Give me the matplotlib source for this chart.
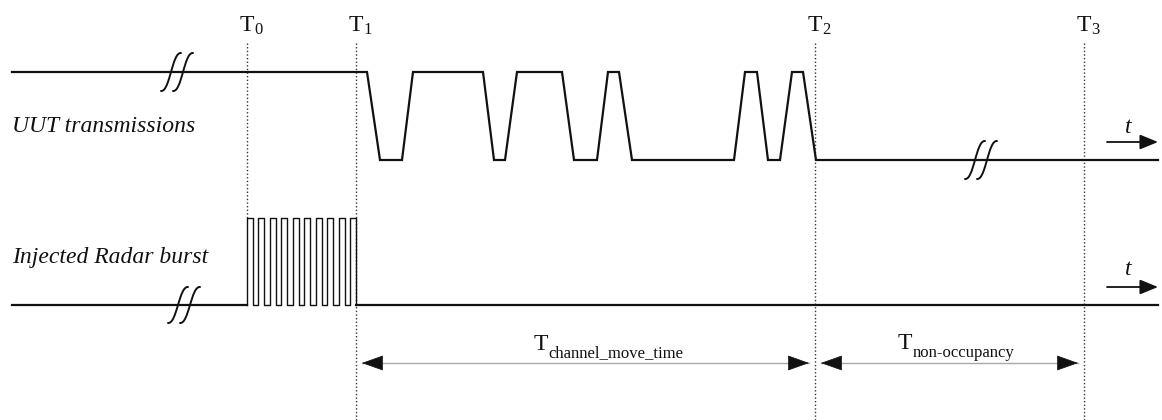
import matplotlib.pyplot as plt
from matplotlib.path import Path
from matplotlib.patches import PathPatch

plt.rcParams["font.family"] = ["Liberation Serif", "DejaVu Serif"]

# time runs in drawing units across the page
t_start, t_end = 12, 1158

# time markers T0..T3
marker_t = [247, 356, 815, 1084]
marker_sub = ["0", "1", "2", "3"]

# UUT transmissions: breakpoints and on/off state
uut_t = [12, 367, 380, 402, 413, 483, 494, 505, 517, 562, 574, 597,
         608, 619, 632, 734, 745, 757, 768, 780, 792, 803, 816, 1158]
uut_on = [1, 1, 0, 0, 1, 1, 0, 0, 1, 1, 0, 0,
          1, 1, 0, 0, 1, 1, 0, 0, 1, 1, 0, 0]

# injected radar burst pulses
pulse_on = [247, 258, 270, 281, 293, 304, 316, 327, 339, 350]
pulse_off = [253, 264, 276, 287, 299, 310, 322, 333, 345, 356]

# time-axis break marks (centre of each "//")
uut_breaks = [177, 981]
radar_breaks = [184]

# dimension arrows between markers
spans = [(1, 2), (2, 3)]
span_main = ["T", "T"]
span_sub = ["channel_move_time", "non-occupancy"]

# lane layout (y of high / low level)
uut_hi, uut_lo = 72, 160
rad_hi, rad_lo = 218, 305
ink = "#111111"


def level_y(on, hi, lo):
    return [hi if v else lo for v in on]


def break_mark(ax, cx, cy, h=19, w=10):
    for dx in (-6, 6):
        x = cx + dx
        verts = [(x - w, cy + h), (x - 1, cy + h + 1), (x + 1, cy - h - 1), (x + w, cy - h)]
        codes = [Path.MOVETO, Path.CURVE4, Path.CURVE4, Path.CURVE4]
        ax.add_patch(PathPatch(Path(verts, codes), fill=False, lw=1.4,
                               edgecolor=ink, capstyle="round"))


def time_arrow(ax, y, t_y):
    ax.annotate("", xy=(t_end, y), xytext=(t_end - 51, y),
                arrowprops=dict(arrowstyle="-|>,head_length=1.1,head_width=0.45",
                                mutation_scale=10, lw=1.3, color=ink,
                                shrinkA=0, shrinkB=0))
    ax.text(t_end - 30, t_y, "t", fontsize=17, style="italic",
            ha="center", va="baseline", color=ink)


fig = plt.figure(figsize=(11.62, 4.2), dpi=100)
ax = fig.add_axes([0, 0, 1, 1])
ax.set_xlim(0, 1162)
ax.set_ylim(420, 0)
ax.axis("off")

# dotted marker lines
for i, mx in enumerate(marker_t):
    bottom = rad_hi if i == 0 else 420
    ax.plot([mx, mx], [43, bottom], color="#333333", lw=1.0,
            linestyle=(0, (1, 1.6)))
    ax.text(mx, 31, "T", fontsize=17, ha="center", va="baseline", color=ink)
    ax.text(mx + 7, 34, marker_sub[i], fontsize=12, ha="left",
            va="baseline", color=ink)

# UUT transmissions trace
ax.plot(uut_t, level_y(uut_on, uut_hi, uut_lo), color=ink, lw=1.6,
        solid_joinstyle="miter")
for b, cy in zip(uut_breaks, [uut_hi, uut_lo]):
    break_mark(ax, b, cy)
ax.text(t_start, 132, "UUT transmissions", fontsize=17, style="italic",
        ha="left", va="baseline", color=ink)
time_arrow(ax, 142, 133)

# radar burst trace
ax.plot([t_start, pulse_on[0]], [rad_lo, rad_lo], color=ink, lw=1.6)
ax.plot([pulse_off[-1], t_end], [rad_lo, rad_lo], color=ink, lw=1.6)
burst_t, burst_on = [], []
for a, b in zip(pulse_on, pulse_off):
    burst_t += [a, a, b, b]
    burst_on += [0, 1, 1, 0]
ax.plot(burst_t, level_y(burst_on, rad_hi, rad_lo), color=ink, lw=1.0)
for b in radar_breaks:
    break_mark(ax, b, rad_lo, h=18)
ax.text(t_start, 263, "Injected Radar burst", fontsize=17, style="italic",
        ha="left", va="baseline", color=ink)
time_arrow(ax, 287, 275)

# dimension arrows
arrow_y = 363
gap = 6
label_left = [534, 898]
label_base = [350, 349]
for k, (i0, i1) in enumerate(spans):
    x0 = marker_t[i0] + gap
    x1 = marker_t[i1] - gap
    ax.plot([x0, x1], [arrow_y, arrow_y], color="#a8a8a8", lw=1.0)
    for tip, back in ((x0, x0 + 2), (x1, x1 - 2)):
        ax.annotate("", xy=(tip, arrow_y), xytext=(back, arrow_y),
                    arrowprops=dict(arrowstyle="-|>,head_length=1.4,head_width=0.5",
                                    mutation_scale=10, lw=0.5, color=ink,
                                    shrinkA=0, shrinkB=0))
    ax.text(label_left[k], label_base[k], span_main[k], fontsize=17,
            ha="left", va="baseline", color=ink)
    ax.text(label_left[k] + 14.5, 357, span_sub[k], fontsize=12,
            ha="left", va="baseline", color=ink)

fig.savefig("out.png", dpi=100)
